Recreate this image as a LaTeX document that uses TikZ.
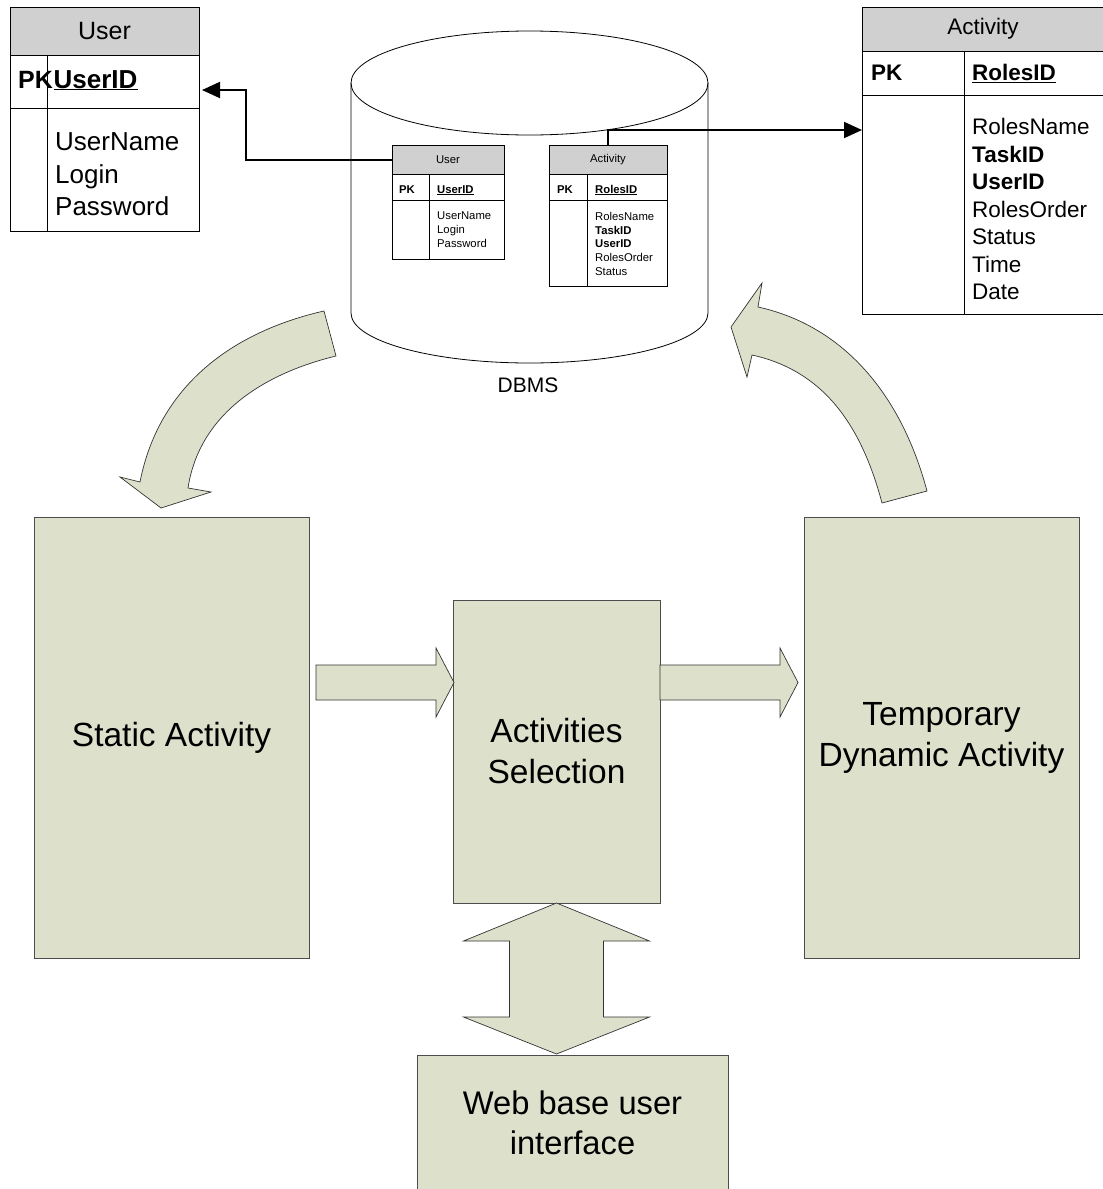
\documentclass[tikz,border=0pt]{standalone}
\usepackage{fontspec}
\setmainfont{Liberation Sans}
\usetikzlibrary{arrows.meta,positioning}
\definecolor{boxfill}{RGB}{221,225,203}
\definecolor{headgray}{RGB}{208,208,208}

\begin{document}
\begin{tikzpicture}[
  x=1pt, y=-1pt,
  tabhead/.style={draw, line width=0.9pt, fill=headgray, inner sep=0pt, outer sep=0pt},
  tabrow/.style={draw, line width=0.9pt, fill=white, inner sep=0pt, outer sep=0pt},
  field/.style={inner sep=0pt, align=left},
  block/.style={draw=black!70, line width=0.8pt, fill=boxfill, inner sep=0pt, outer sep=0pt, align=center, font=\fontsize{33.5}{41}\selectfont},
  fatarrow/.style={draw=black!80, line width=0.7pt, fill=boxfill},
  link/.style={line width=2pt, -{Triangle[length=18pt,width=16pt]}},
  node distance=0pt
]
\useasboundingbox (0,0) rectangle (1103,1189);

% Big User table (top left)
\node[tabhead, minimum width=189pt, minimum height=48pt, font=\fontsize{25}{30}\selectfont] (userhd) at (104.5,31) {User};
\node[tabrow, minimum width=189pt, minimum height=53pt, below=of userhd] (userpk) {};
\node[tabrow, minimum width=189pt, minimum height=123pt, below=of userpk] (userbody) {};
\draw[line width=0.9pt] ([xshift=37pt]userpk.north west) -- ([xshift=37pt]userbody.south west);
\node[field, anchor=base west, font=\bfseries\fontsize{25}{32}\selectfont] (userpkk) at (18,88) {PK};
\node[field, anchor=base west, font=\bfseries\fontsize{26}{32}\selectfont] (userkey) at (53.5,88) {\underline{UserID}};
\node[field, anchor=north west, font=\fontsize{26}{32.5}\selectfont] (userflds) at (55,132.7) {UserName\\Login\\Password};

% Big Activity table (top right)
\node[tabhead, minimum width=242pt, minimum height=44pt, font=\fontsize{22.5}{27}\selectfont] (acthd) at (983,29) {Activity};
\node[tabrow, minimum width=242pt, minimum height=44pt, below=of acthd] (actpk) {};
\node[tabrow, minimum width=242pt, minimum height=219pt, below=of actpk] (actbody) {};
\draw[line width=0.9pt] ([xshift=102pt]actpk.north west) -- ([xshift=102pt]actbody.south west);
\node[field, anchor=base west, font=\bfseries\fontsize{22.5}{27}\selectfont] (actpkk) at (871,80.5) {PK};
\node[field, anchor=base west, font=\bfseries\fontsize{22.5}{27}\selectfont] (actkey) at (972,80.5) {\underline{RolesID}};
\node[field, anchor=north west, font=\fontsize{22.5}{27.5}\selectfont] (actflds) at (972,118) {RolesName\\\textbf{TaskID}\\\textbf{UserID}\\RolesOrder\\Status\\Time\\Date};

% DBMS cylinder
\draw[line width=0.8pt] (351,83) -- (351,313) .. controls (351,340.6) and (430.9,363) .. (529.5,363)
  .. controls (628.1,363) and (708,340.6) .. (708,313) -- (708,83);
\draw[line width=0.8pt] (529.5,83) ellipse (178.5pt and 52pt);
\node[font=\fontsize{21}{25}\selectfont] (dbms) at (528,385) {DBMS};

% Small tables inside the cylinder
\node[tabhead, minimum width=112pt, minimum height=29pt, font=\fontsize{11.3}{13.75}\selectfont] (iuserhd) at (448,159.5) {User};
\node[tabrow, minimum width=112pt, minimum height=26pt, below=of iuserhd] (iuserpk) {};
\node[tabrow, minimum width=112pt, minimum height=59pt, below=of iuserpk] (iuserbody) {};
\draw[line width=0.9pt] ([xshift=37pt]iuserpk.north west) -- ([xshift=37pt]iuserbody.south west);
\node[field, anchor=base west, font=\bfseries\fontsize{11.3}{13.75}\selectfont] (iuserpkk) at (399,193) {PK};
\node[field, anchor=base west, font=\bfseries\fontsize{11.3}{13.75}\selectfont] (iuserkey) at (437,193) {\underline{UserID}};
\node[field, anchor=north west, font=\fontsize{11.3}{14}\selectfont] (iuserflds) at (437,212) {UserName\\Login\\Password};

\node[tabhead, minimum width=118pt, minimum height=29pt, font=\fontsize{11.3}{13.75}\selectfont] (iacthd) at (608,159.5) {Activity};
\node[tabrow, minimum width=118pt, minimum height=26pt, below=of iacthd] (iactpk) {};
\node[tabrow, minimum width=118pt, minimum height=86pt, below=of iactpk] (iactbody) {};
\draw[line width=0.9pt] ([xshift=38pt]iactpk.north west) -- ([xshift=38pt]iactbody.south west);
\node[field, anchor=base west, font=\bfseries\fontsize{11.3}{13.75}\selectfont] (iactpkk) at (557,193) {PK};
\node[field, anchor=base west, font=\bfseries\fontsize{11.3}{13.75}\selectfont] (iactkey) at (595,193) {\underline{RolesID}};
\node[field, anchor=north west, font=\fontsize{11.3}{13.75}\selectfont] (iactflds) at (595,212) {RolesName\\\textbf{TaskID}\\\textbf{UserID}\\RolesOrder\\Status};

% Links from the inner tables to the big ones
\draw[link] (iuserhd.west) -- ++(-146,0) |- ([xshift=3pt,yshift=-8.5pt]userpk.east);
\draw[link] (iacthd.north) |- ([yshift=74.5pt]actbody.west);

% Curved arrows
\draw[fatarrow] (324,311) .. controls (240,330) and (160,380) .. (140,482) -- (120,477) -- (161,508) -- (211,492)
  -- (188,488) .. controls (200,410) and (270,372) .. (336,356) -- cycle;
\draw[fatarrow] (927,491) .. controls (900,390) and (840,325) .. (758,307) -- (762,283) -- (731,327) -- (747,377)
  -- (752,355) .. controls (820,370) and (860,420) .. (882,503) -- cycle;

% Process blocks
\node[block, minimum width=275pt, minimum height=441pt] (static) at (171.5,737.5) {Static Activity};
\node[block, minimum width=275pt, minimum height=441pt, right=495pt of static] (temp) {Temporary\\Dynamic Activity};
\node[block, minimum width=207pt, minimum height=303pt] (select) at (556.5,751.5) {Activities\\Selection};
\node[block, minimum width=311pt, minimum height=135.5pt, font=\fontsize{32.7}{40}\selectfont] (web) at (572.5,1122.75) {Web base user\\interface};

% Block arrows between the blocks
\draw[fatarrow] ([xshift=7pt,yshift=72.5pt]static.east) -- ++(120,0) -- ++(0,-17) -- ++(18,34.5)
  -- ++(-18,34.5) -- ++(0,-17) -- ++(-120,0) -- cycle;
\draw[fatarrow] ([yshift=86.5pt]select.east) -- ++(120,0) -- ++(0,-17) -- ++(18,34.5)
  -- ++(-18,34.5) -- ++(0,-17) -- ++(-120,0) -- cycle;
\draw[fatarrow] (select.south) -- ++(93,38) -- ++(-46,0) -- ++(0,76) -- ++(46,0) -- ++(-93,37)
  -- ++(-93,-37) -- ++(46,0) -- ++(0,-76) -- ++(-46,0) -- cycle;

\end{tikzpicture}
\end{document}
